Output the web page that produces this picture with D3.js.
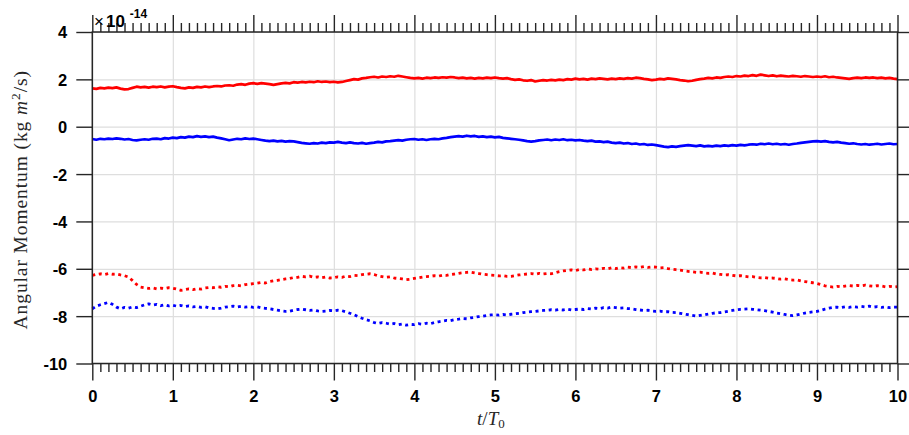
<!DOCTYPE html>
<html>
<head>
<meta charset="utf-8">
<script src="https://cdn.jsdelivr.net/npm/d3@7/dist/d3.min.js"></script>
<style>
  html, body { margin: 0; padding: 0; background: #fff; }
  svg { display: block; }
  .tick text { font-family: "Liberation Sans", Arial, sans-serif; font-weight: bold; font-size: 16.5px; fill: #000; }
  .serif { font-family: "Liberation Serif", "DejaVu Serif", serif; }
</style>
</head>
<body>
<svg id="chart" width="909" height="435"></svg>
<script>
// Sampling of the time axis (t / T0), one sample every 0.05 period
const timeStep = 0.05;
const sampleCount = 201;

// Angular momentum series, in units of 1e-14 kg m^2/s
const redSolid = [
  1.62,1.60,1.64,1.62,1.65,1.63,1.66,1.61,1.58,1.59,1.64,1.69,1.66,1.68,1.65,1.69,1.67,1.70,1.66,1.69,
  1.71,1.67,1.64,1.62,1.66,1.64,1.68,1.66,1.70,1.67,1.70,1.72,1.70,1.74,1.75,1.73,1.78,1.80,1.77,1.82,
  1.84,1.81,1.84,1.82,1.80,1.77,1.80,1.83,1.85,1.83,1.88,1.86,1.89,1.87,1.90,1.88,1.92,1.89,1.91,1.88,
  1.90,1.87,1.89,1.93,1.97,2.01,1.99,2.04,2.06,2.09,2.11,2.08,2.12,2.10,2.13,2.11,2.15,2.12,2.09,2.06,
  2.04,2.06,2.03,2.07,2.05,2.08,2.06,2.09,2.07,2.10,2.08,2.05,2.07,2.04,2.06,2.03,2.06,2.04,2.07,2.05,
  2.08,2.05,2.03,2.05,2.01,1.98,2.00,1.96,1.94,1.97,1.91,1.94,1.97,1.95,1.98,1.96,1.99,1.97,2.01,1.99,
  2.03,2.00,2.02,1.99,2.03,2.01,2.04,2.02,2.00,2.03,2.01,2.04,2.02,2.05,2.03,2.07,2.05,2.02,2.00,1.97,
  1.99,2.02,2.00,2.04,2.02,2.00,1.97,1.95,1.92,1.94,1.98,2.01,2.03,2.06,2.04,2.08,2.06,2.10,2.12,2.10,
  2.14,2.12,2.16,2.14,2.18,2.15,2.20,2.17,2.14,2.17,2.13,2.16,2.14,2.12,2.15,2.13,2.11,2.14,2.12,2.10,
  2.12,2.10,2.13,2.09,2.11,2.08,2.06,2.04,2.02,2.05,2.07,2.05,2.08,2.06,2.08,2.05,2.07,2.04,2.06,2.03,
  2.01
];
const blueSolid = [
  -0.52,-0.55,-0.51,-0.53,-0.50,-0.52,-0.49,-0.51,-0.54,-0.52,-0.56,-0.58,-0.55,-0.53,-0.55,-0.51,-0.50,-0.53,-0.48,-0.50,
  -0.46,-0.48,-0.44,-0.46,-0.42,-0.44,-0.40,-0.43,-0.41,-0.44,-0.42,-0.46,-0.49,-0.53,-0.57,-0.54,-0.51,-0.53,-0.49,-0.52,
  -0.50,-0.53,-0.56,-0.59,-0.61,-0.59,-0.62,-0.60,-0.63,-0.61,-0.62,-0.65,-0.68,-0.70,-0.72,-0.69,-0.71,-0.67,-0.69,-0.66,
  -0.67,-0.64,-0.67,-0.69,-0.66,-0.69,-0.71,-0.68,-0.72,-0.69,-0.67,-0.64,-0.66,-0.62,-0.61,-0.59,-0.57,-0.59,-0.55,-0.53,
  -0.52,-0.55,-0.53,-0.56,-0.53,-0.51,-0.53,-0.49,-0.47,-0.44,-0.42,-0.40,-0.42,-0.38,-0.41,-0.39,-0.43,-0.41,-0.44,-0.42,
  -0.45,-0.43,-0.47,-0.49,-0.51,-0.53,-0.55,-0.58,-0.61,-0.63,-0.61,-0.58,-0.56,-0.54,-0.57,-0.54,-0.56,-0.53,-0.57,-0.55,
  -0.58,-0.56,-0.59,-0.61,-0.59,-0.63,-0.62,-0.65,-0.63,-0.67,-0.69,-0.67,-0.71,-0.69,-0.73,-0.71,-0.75,-0.73,-0.77,-0.75,
  -0.78,-0.81,-0.84,-0.86,-0.83,-0.85,-0.82,-0.80,-0.78,-0.80,-0.82,-0.79,-0.83,-0.81,-0.83,-0.80,-0.82,-0.79,-0.81,-0.78,
  -0.80,-0.77,-0.79,-0.76,-0.74,-0.76,-0.72,-0.74,-0.71,-0.74,-0.72,-0.75,-0.73,-0.76,-0.73,-0.71,-0.68,-0.66,-0.64,-0.62,
  -0.61,-0.63,-0.61,-0.64,-0.66,-0.64,-0.67,-0.69,-0.72,-0.70,-0.73,-0.75,-0.73,-0.76,-0.74,-0.72,-0.75,-0.73,-0.71,-0.74,
  -0.73
];
const redDotted = [
  -6.28,-6.24,-6.21,-6.24,-6.20,-6.23,-6.22,-6.26,-6.29,-6.35,-6.50,-6.66,-6.77,-6.80,-6.83,-6.81,-6.85,-6.82,-6.84,-6.80,
  -6.82,-6.86,-6.91,-6.88,-6.85,-6.88,-6.84,-6.86,-6.81,-6.79,-6.80,-6.76,-6.78,-6.74,-6.76,-6.71,-6.70,-6.72,-6.67,-6.65,
  -6.63,-6.61,-6.58,-6.60,-6.54,-6.51,-6.49,-6.46,-6.43,-6.41,-6.37,-6.36,-6.32,-6.34,-6.31,-6.36,-6.34,-6.38,-6.35,-6.39,
  -6.38,-6.34,-6.36,-6.31,-6.33,-6.28,-6.29,-6.25,-6.23,-6.21,-6.24,-6.30,-6.33,-6.36,-6.34,-6.39,-6.41,-6.43,-6.46,-6.44,
  -6.41,-6.38,-6.35,-6.33,-6.32,-6.29,-6.31,-6.27,-6.28,-6.24,-6.22,-6.19,-6.17,-6.15,-6.14,-6.17,-6.20,-6.23,-6.25,-6.27,
  -6.28,-6.30,-6.29,-6.32,-6.32,-6.29,-6.26,-6.24,-6.22,-6.20,-6.23,-6.19,-6.22,-6.20,-6.21,-6.17,-6.12,-6.09,-6.07,-6.05,
  -6.08,-6.03,-6.05,-6.01,-6.03,-6.00,-6.02,-5.98,-6.00,-5.96,-5.99,-5.95,-5.97,-5.93,-5.95,-5.92,-5.94,-5.91,-5.94,-5.92,
  -5.93,-5.96,-5.95,-5.99,-6.02,-6.04,-6.06,-6.09,-6.11,-6.13,-6.15,-6.14,-6.17,-6.19,-6.18,-6.22,-6.24,-6.26,-6.25,-6.28,
  -6.30,-6.29,-6.32,-6.34,-6.33,-6.36,-6.38,-6.37,-6.40,-6.39,-6.41,-6.44,-6.43,-6.46,-6.48,-6.47,-6.51,-6.54,-6.57,-6.59,
  -6.62,-6.67,-6.72,-6.75,-6.77,-6.74,-6.76,-6.73,-6.71,-6.73,-6.70,-6.72,-6.69,-6.72,-6.74,-6.71,-6.73,-6.76,-6.74,-6.77,
  -6.75
];
const blueDotted = [
  -7.69,-7.58,-7.52,-7.47,-7.42,-7.50,-7.62,-7.69,-7.63,-7.66,-7.61,-7.64,-7.58,-7.52,-7.48,-7.53,-7.50,-7.56,-7.52,-7.57,
  -7.54,-7.58,-7.55,-7.60,-7.57,-7.61,-7.59,-7.63,-7.60,-7.65,-7.67,-7.69,-7.66,-7.62,-7.60,-7.58,-7.61,-7.58,-7.62,-7.60,
  -7.63,-7.61,-7.65,-7.67,-7.69,-7.72,-7.75,-7.78,-7.80,-7.79,-7.75,-7.72,-7.70,-7.73,-7.76,-7.74,-7.78,-7.80,-7.79,-7.76,
  -7.78,-7.75,-7.77,-7.82,-7.88,-7.94,-8.02,-8.09,-8.15,-8.20,-8.27,-8.31,-8.27,-8.30,-8.34,-8.31,-8.36,-8.33,-8.38,-8.35,
  -8.36,-8.32,-8.34,-8.30,-8.32,-8.27,-8.24,-8.21,-8.18,-8.19,-8.15,-8.13,-8.10,-8.11,-8.07,-8.05,-8.02,-8.00,-7.97,-7.95,
  -7.94,-7.96,-7.93,-7.95,-7.92,-7.90,-7.88,-7.85,-7.83,-7.81,-7.80,-7.78,-7.76,-7.75,-7.73,-7.75,-7.72,-7.74,-7.71,-7.74,
  -7.72,-7.70,-7.72,-7.68,-7.70,-7.66,-7.68,-7.64,-7.66,-7.62,-7.64,-7.66,-7.65,-7.68,-7.69,-7.72,-7.74,-7.76,-7.75,-7.78,
  -7.80,-7.79,-7.82,-7.81,-7.84,-7.85,-7.88,-7.91,-7.94,-7.97,-8.00,-7.97,-7.94,-7.91,-7.88,-7.86,-7.85,-7.82,-7.79,-7.76,
  -7.73,-7.71,-7.70,-7.69,-7.71,-7.73,-7.75,-7.77,-7.80,-7.83,-7.87,-7.90,-7.93,-7.96,-7.98,-7.95,-7.91,-7.87,-7.84,-7.82,
  -7.80,-7.75,-7.70,-7.66,-7.63,-7.62,-7.64,-7.61,-7.63,-7.60,-7.62,-7.59,-7.61,-7.58,-7.62,-7.60,-7.63,-7.61,-7.64,-7.62,
  -7.62
];

// Axis ticks
const xTicks = [0,1,2,3,4,5,6,7,8,9,10];
const yTicks = [4,2,0,-2,-4,-6,-8,-10];
const xMinorTicks = d3.range(0, 101).map(i => i / 10).filter(v => Math.abs(v - Math.round(v)) > 1e-9);

const times = d3.range(sampleCount).map(i => i * timeStep);

const series = [
  { values: redSolid,   color: "#ff0000", dash: null },
  { values: blueSolid,  color: "#0000ff", dash: null },
  { values: redDotted,  color: "#ff0000", dash: "3,3.6" },
  { values: blueDotted, color: "#0000ff", dash: "3,3.6" }
];

const W = 909, H = 435;
const margin = { top: 32, right: 11.5, bottom: 71.5, left: 92.3 };
const iw = W - margin.left - margin.right;
const ih = H - margin.top - margin.bottom;

const svg = d3.select("#chart");
const g = svg.append("g").attr("transform", `translate(${margin.left},${margin.top})`);

const x = d3.scaleLinear().domain([0, 10]).range([0, iw]);
const y = d3.scaleLinear().domain([-10, 4]).range([ih, 0]);

const axisColor = "#262626";
const gridColor = "#dedede";
const plain = d => String(d);   // hyphen-minus, as printed on the axes

// Grid lines
g.append("g")
  .call(d3.axisBottom(x).tickValues(xTicks).tickSize(-ih).tickFormat(""))
  .attr("transform", `translate(0,${ih})`)
  .call(a => a.select(".domain").remove())
  .call(a => a.selectAll("line").attr("stroke", gridColor).attr("stroke-width", 1.2));
g.append("g")
  .call(d3.axisLeft(y).tickValues(yTicks).tickSize(-iw).tickFormat(""))
  .call(a => a.select(".domain").remove())
  .call(a => a.selectAll("line").attr("stroke", gridColor).attr("stroke-width", 1.2));

// Data lines
const line = d3.line().x((d, i) => x(times[i])).y(d => y(d));
series.forEach(s => {
  g.append("path")
    .datum(s.values)
    .attr("fill", "none")
    .attr("stroke", s.color)
    .attr("stroke-width", s.dash ? 2.8 : 2.7)
    .attr("stroke-linejoin", "round")
    .attr("stroke-dasharray", s.dash)
    .attr("d", line);
});

function styleAxis(a) {
  a.select(".domain").remove();
  a.selectAll("line").attr("stroke", axisColor).attr("stroke-width", 1.4);
}

// Bottom axis: labelled majors, plus minors
g.append("g").attr("transform", `translate(0,${ih})`)
  .call(d3.axisBottom(x).tickValues(xMinorTicks).tickSize(8.5).tickFormat(""))
  .call(styleAxis);
g.append("g").attr("transform", `translate(0,${ih})`)
  .call(d3.axisBottom(x).tickValues(xTicks).tickSize(17).tickPadding(10).tickFormat(plain))
  .call(styleAxis);

// Top axis: unlabelled majors and minors
g.append("g")
  .call(d3.axisTop(x).tickValues(xMinorTicks).tickSize(9).tickFormat(""))
  .call(styleAxis);
g.append("g")
  .call(d3.axisTop(x).tickValues(xTicks).tickSize(17).tickFormat(""))
  .call(styleAxis);

// Left axis with labels, right axis ticks only
g.append("g")
  .call(d3.axisLeft(y).tickValues(yTicks).tickSize(16).tickPadding(9).tickFormat(plain))
  .call(styleAxis)
  .call(a => a.selectAll("text").attr("dy", "0.36em"));
g.append("g").attr("transform", `translate(${iw},0)`)
  .call(d3.axisRight(y).tickValues(yTicks).tickSize(14).tickFormat(""))
  .call(styleAxis);

// Frame
g.append("rect")
  .attr("x", 0).attr("y", 0).attr("width", iw).attr("height", ih)
  .attr("fill", "none").attr("stroke", axisColor).attr("stroke-width", 1.5);

// Exponent marker
const expo = svg.append("text")
  .attr("x", 94).attr("y", 26.5)
  .attr("font-family", "Liberation Sans, Arial, sans-serif")
  .attr("fill", "#000");
expo.append("tspan").attr("font-size", "17px").text("\u00d7");
expo.append("tspan").attr("font-size", "17px").attr("font-weight", "bold").attr("dx", 2).text("10");
expo.append("tspan").attr("font-size", "12px").attr("font-weight", "bold").attr("dx", 5).attr("dy", -9).text("-14");

// Axis titles
const yTitle = svg.append("text")
  .attr("class", "serif")
  .attr("transform", `translate(27,${margin.top + ih / 2 + 2}) rotate(-90)`)
  .attr("text-anchor", "middle")
  .attr("font-size", "19.5px")
  .attr("letter-spacing", "0.9px")
  .attr("fill", "#262626");
yTitle.append("tspan").text("Angular Momentum (kg ");
yTitle.append("tspan").attr("font-style", "italic").text("m");
yTitle.append("tspan").attr("font-size", "13.5px").attr("dy", -7).text("2");
yTitle.append("tspan").attr("dy", 7).text("/s)");

const xTitle = svg.append("text")
  .attr("class", "serif")
  .attr("x", margin.left + iw / 2 - 4).attr("y", 425)
  .attr("text-anchor", "middle")
  .attr("font-size", "19px")
  .attr("fill", "#262626");
xTitle.append("tspan").attr("font-style", "italic").text("t");
xTitle.append("tspan").text("/");
xTitle.append("tspan").attr("font-style", "italic").text("T");
xTitle.append("tspan").attr("font-size", "13px").attr("dy", 3).text("0");
</script>
</body>
</html>
